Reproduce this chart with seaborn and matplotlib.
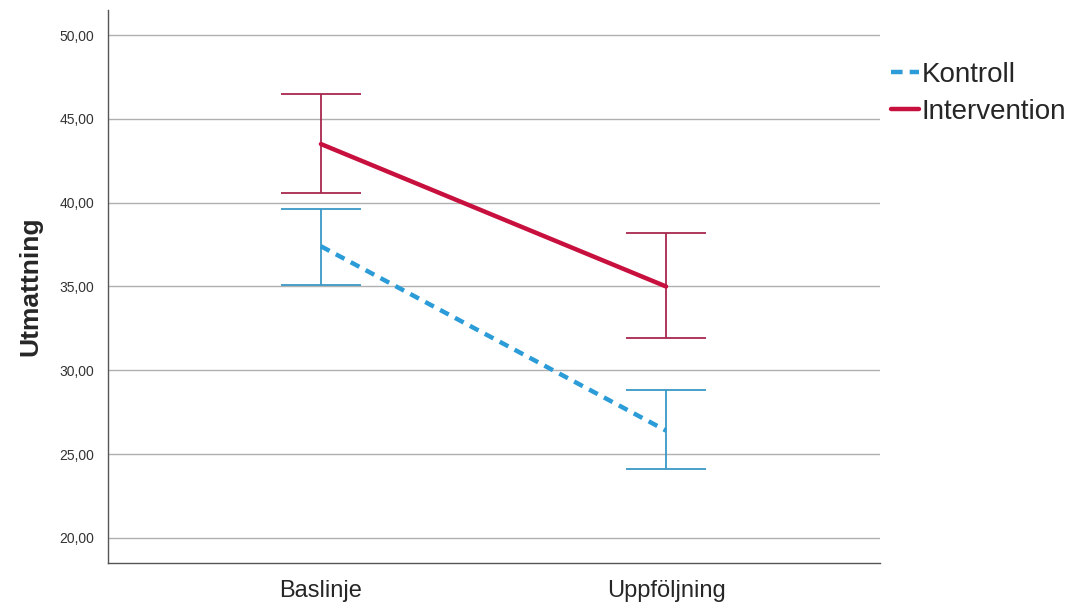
import pandas as pd
import numpy as np
import matplotlib
matplotlib.use("Agg")
import matplotlib.pyplot as plt
import seaborn as sns

# values
tider = ["Baslinje", "Uppföljning"]
kontroll_mean = [37.4, 26.4]
kontroll_low = [35.1, 24.1]
kontroll_high = [39.6, 28.8]
interv_mean = [43.5, 35.0]
interv_low = [40.6, 31.9]
interv_high = [46.5, 38.2]
grupper = ["Kontroll", "Intervention"]

df = pd.DataFrame({
    "Tid": tider * 2,
    "Grupp": [grupper[0]] * 2 + [grupper[1]] * 2,
    "Utmattning": kontroll_mean + interv_mean,
})
df["x"] = df["Tid"].map({t: i for i, t in enumerate(tider)})

sns.set_style("white")
plt.rcParams['font.family'] = ['Arial', 'Liberation Sans', 'DejaVu Sans']

fig = plt.figure(figsize=(10.83, 6.08), dpi=100)
ax = fig.add_axes([0.0997, 0.074, 0.7129, 0.9096])

colors = {"Kontroll": "#2b9cd8", "Intervention": "#c8103e"}
err_colors = {"Kontroll": "#3a98c6", "Intervention": "#a8284e"}

sns.lineplot(data=df, x="x", y="Utmattning", hue="Grupp", style="Grupp",
             palette=colors, dashes={"Kontroll": (2.2, 1.6), "Intervention": ""},
             linewidth=3.2, legend=False, ax=ax, zorder=3)

# error bars
for g, m, lo, hi in [("Kontroll", kontroll_mean, kontroll_low, kontroll_high),
                     ("Intervention", interv_mean, interv_low, interv_high)]:
    m = np.array(m)
    yerr = [m - np.array(lo), np.array(hi) - m]
    ax.errorbar(range(len(tider)), m, yerr=yerr, fmt="none", ecolor=err_colors[g],
                elinewidth=1.3, capsize=29, capthick=1.3, zorder=2)

ax.set_xlim(-0.617, 1.62)
ax.set_ylim(18.5, 51.5)
ax.set_xticks(range(len(tider)))
ax.set_xticklabels(tider, fontsize=17)
yt = np.arange(20, 51, 5)
ax.set_yticks(yt)
ax.set_yticklabels([f"{v:.2f}".replace(".", ",") for v in yt], fontsize=10, color="#333333")
ax.tick_params(axis="y", length=0, pad=10)
ax.tick_params(axis="x", length=0, pad=12)
ax.set_xlabel("")
ax.set_ylabel("Utmattning", fontsize=19, fontweight="bold", labelpad=12)
ax.grid(axis="y", color="#b0b0b0", linewidth=1)
ax.set_axisbelow(True)
for s in ["top", "right"]:
    ax.spines[s].set_visible(False)
for s in ["left", "bottom"]:
    ax.spines[s].set_color("#555555")
    ax.spines[s].set_linewidth(1)

handles = [plt.Line2D([], [], color=colors["Kontroll"], linewidth=3.2, linestyle=(0, (2.6, 1.6))),
           plt.Line2D([], [], color=colors["Intervention"], linewidth=3.2)]
fig.legend(handles, grupper, loc="upper left", bbox_to_anchor=(0.823, 0.898),
           frameon=False, fontsize=20, handlelength=1.0, handletextpad=0.1,
           labelspacing=0.4, borderpad=0, borderaxespad=0)

fig.savefig("out.png", dpi=100)
